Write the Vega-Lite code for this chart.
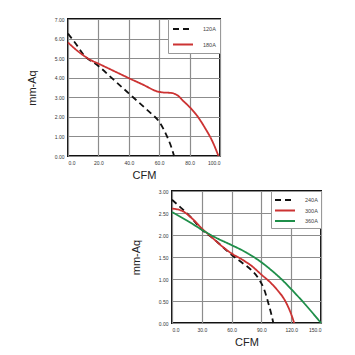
{
  "$schema": "https://vega.github.io/schema/vega-lite/v6.json",
  "padding": {"left": 25, "top": 16, "right": 5, "bottom": 5},
  "background": "white",
  "config": {
    "font": "Liberation Sans",
    "view": {"stroke": "#111", "strokeWidth": 2},
    "axis": {
      "grid": true, "gridColor": "#8c8c8c", "gridWidth": 1.2,
      "domain": false, "ticks": false,
      "labelFontSize": 5, "labelColor": "#333", "labelPadding": 4,
      "titleFontSize": 11, "titleFontWeight": "normal", "titleColor": "#222"
    },
    "axisY": {"titlePadding": 17},
    "legend": {
      "orient": "top-right", "offset": 0, "title": null,
      "fillColor": "white", "strokeColor": "#999",
      "labelFontSize": 5.5, "labelColor": "#444",
      "symbolType": "M-2,0L2,0", "symbolSize": 100, "symbolStrokeWidth": 1.8,
      "symbolOffset": 5, "labelOffset": 14
    }
  },
  "datasets": {
    "top": [
      {"cfm": 0, "p": 6.25, "s": "120A"}, {"cfm": 5, "p": 5.75, "s": "120A"}, {"cfm": 10, "p": 5.2, "s": "120A"},
      {"cfm": 20, "p": 4.6, "s": "120A"}, {"cfm": 30, "p": 3.9, "s": "120A"}, {"cfm": 40, "p": 3.2, "s": "120A"},
      {"cfm": 50, "p": 2.5, "s": "120A"}, {"cfm": 55, "p": 2.15, "s": "120A"}, {"cfm": 60, "p": 1.75, "s": "120A"},
      {"cfm": 63, "p": 1.35, "s": "120A"}, {"cfm": 66, "p": 0.85, "s": "120A"}, {"cfm": 68, "p": 0.45, "s": "120A"},
      {"cfm": 69.8, "p": 0, "s": "120A"},
      {"cfm": 0, "p": 5.8, "s": "180A"}, {"cfm": 5, "p": 5.45, "s": "180A"}, {"cfm": 10, "p": 5.15, "s": "180A"},
      {"cfm": 15, "p": 4.9, "s": "180A"}, {"cfm": 20, "p": 4.72, "s": "180A"}, {"cfm": 30, "p": 4.35, "s": "180A"},
      {"cfm": 40, "p": 3.98, "s": "180A"}, {"cfm": 50, "p": 3.62, "s": "180A"}, {"cfm": 58, "p": 3.32, "s": "180A"},
      {"cfm": 62, "p": 3.25, "s": "180A"}, {"cfm": 68, "p": 3.22, "s": "180A"}, {"cfm": 72, "p": 3.1, "s": "180A"},
      {"cfm": 76, "p": 2.8, "s": "180A"}, {"cfm": 80, "p": 2.5, "s": "180A"}, {"cfm": 85, "p": 2.05, "s": "180A"},
      {"cfm": 90, "p": 1.45, "s": "180A"}, {"cfm": 95, "p": 0.75, "s": "180A"}, {"cfm": 99, "p": 0, "s": "180A"}
    ],
    "bottom": [
      {"cfm": 0, "p": 2.8, "s": "240A"}, {"cfm": 10, "p": 2.6, "s": "240A"}, {"cfm": 20, "p": 2.38, "s": "240A"},
      {"cfm": 30, "p": 2.12, "s": "240A"}, {"cfm": 40, "p": 1.95, "s": "240A"}, {"cfm": 50, "p": 1.75, "s": "240A"},
      {"cfm": 60, "p": 1.55, "s": "240A"}, {"cfm": 70, "p": 1.38, "s": "240A"}, {"cfm": 80, "p": 1.2, "s": "240A"},
      {"cfm": 88, "p": 0.98, "s": "240A"}, {"cfm": 93, "p": 0.75, "s": "240A"}, {"cfm": 97, "p": 0.45, "s": "240A"},
      {"cfm": 100, "p": 0.2, "s": "240A"}, {"cfm": 102, "p": 0, "s": "240A"},
      {"cfm": 0, "p": 2.6, "s": "300A"}, {"cfm": 10, "p": 2.55, "s": "300A"}, {"cfm": 20, "p": 2.38, "s": "300A"},
      {"cfm": 30, "p": 2.15, "s": "300A"}, {"cfm": 40, "p": 1.95, "s": "300A"}, {"cfm": 50, "p": 1.75, "s": "300A"},
      {"cfm": 60, "p": 1.58, "s": "300A"}, {"cfm": 70, "p": 1.45, "s": "300A"}, {"cfm": 80, "p": 1.3, "s": "300A"},
      {"cfm": 90, "p": 1.1, "s": "300A"}, {"cfm": 100, "p": 0.9, "s": "300A"}, {"cfm": 106, "p": 0.75, "s": "300A"},
      {"cfm": 114, "p": 0.5, "s": "300A"}, {"cfm": 120, "p": 0.2, "s": "300A"}, {"cfm": 123, "p": 0, "s": "300A"},
      {"cfm": 0, "p": 2.52, "s": "360A"}, {"cfm": 15, "p": 2.33, "s": "360A"}, {"cfm": 30, "p": 2.12, "s": "360A"},
      {"cfm": 45, "p": 1.93, "s": "360A"}, {"cfm": 60, "p": 1.77, "s": "360A"}, {"cfm": 75, "p": 1.6, "s": "360A"},
      {"cfm": 90, "p": 1.38, "s": "360A"}, {"cfm": 100, "p": 1.2, "s": "360A"}, {"cfm": 110, "p": 1.0, "s": "360A"},
      {"cfm": 120, "p": 0.77, "s": "360A"}, {"cfm": 135, "p": 0.4, "s": "360A"}, {"cfm": 150, "p": 0, "s": "360A"}
    ]
  },
  "spacing": 7,
  "vconcat": [
    {
      "width": 152, "height": 137,
      "data": {"name": "top"},
      "mark": {"type": "line", "strokeWidth": 1.8, "interpolate": "monotone"},
      "encoding": {
        "x": {"field": "cfm", "type": "quantitative", "title": "CFM",
              "scale": {"domain": [0, 100], "nice": false},
              "axis": {"values": [0, 20, 40, 60, 80, 100], "format": ".1f"}},
        "y": {"field": "p", "type": "quantitative", "title": "mm-Aq",
              "scale": {"domain": [0, 7], "nice": false},
              "axis": {"values": [0, 1, 2, 3, 4, 5, 6, 7], "format": ".2f"}},
        "color": {"field": "s", "type": "nominal",
                  "scale": {"domain": ["120A", "180A"], "range": ["#111111", "#cc3333"]},
                  "legend": {"padding": 4, "rowPadding": 5.5}},
        "strokeDash": {"field": "s", "type": "nominal",
                       "scale": {"domain": ["120A", "180A"], "range": [[6, 4], [1, 0]]}}
      }
    },
    {
      "spacing": 0,
      "resolve": {"scale": {"color": "independent", "strokeDash": "independent"},
                  "legend": {"color": "independent", "strokeDash": "independent"}},
      "hconcat": [
        {
          "width": 61, "height": 1,
          "view": {"stroke": null},
          "data": {"values": []},
          "mark": {"type": "point"},
          "encoding": {}
        },
        {
          "width": 149, "height": 132,
          "data": {"name": "bottom"},
          "mark": {"type": "line", "strokeWidth": 1.8, "interpolate": "monotone"},
          "encoding": {
            "x": {"field": "cfm", "type": "quantitative", "title": "CFM",
                  "scale": {"domain": [0, 150], "nice": false},
                  "axis": {"values": [0, 30, 60, 90, 120, 150], "format": ".1f"}},
            "y": {"field": "p", "type": "quantitative", "title": "mm-Aq",
                  "scale": {"domain": [0, 3], "nice": false},
                  "axis": {"values": [0, 0.5, 1, 1.5, 2, 2.5, 3], "format": ".2f"}},
            "color": {"field": "s", "type": "nominal",
                      "scale": {"domain": ["240A", "300A", "360A"], "range": ["#111111", "#cc3333", "#1f8f4a"]},
                      "legend": {"padding": 3, "rowPadding": 0.5}},
            "strokeDash": {"field": "s", "type": "nominal",
                           "scale": {"domain": ["240A", "300A", "360A"], "range": [[6, 4], [1, 0], [1, 0]]}}
          }
        }
      ]
    }
  ],
  "resolve": {"scale": {"color": "independent", "strokeDash": "independent"},
              "legend": {"color": "independent", "strokeDash": "independent"}}
}
